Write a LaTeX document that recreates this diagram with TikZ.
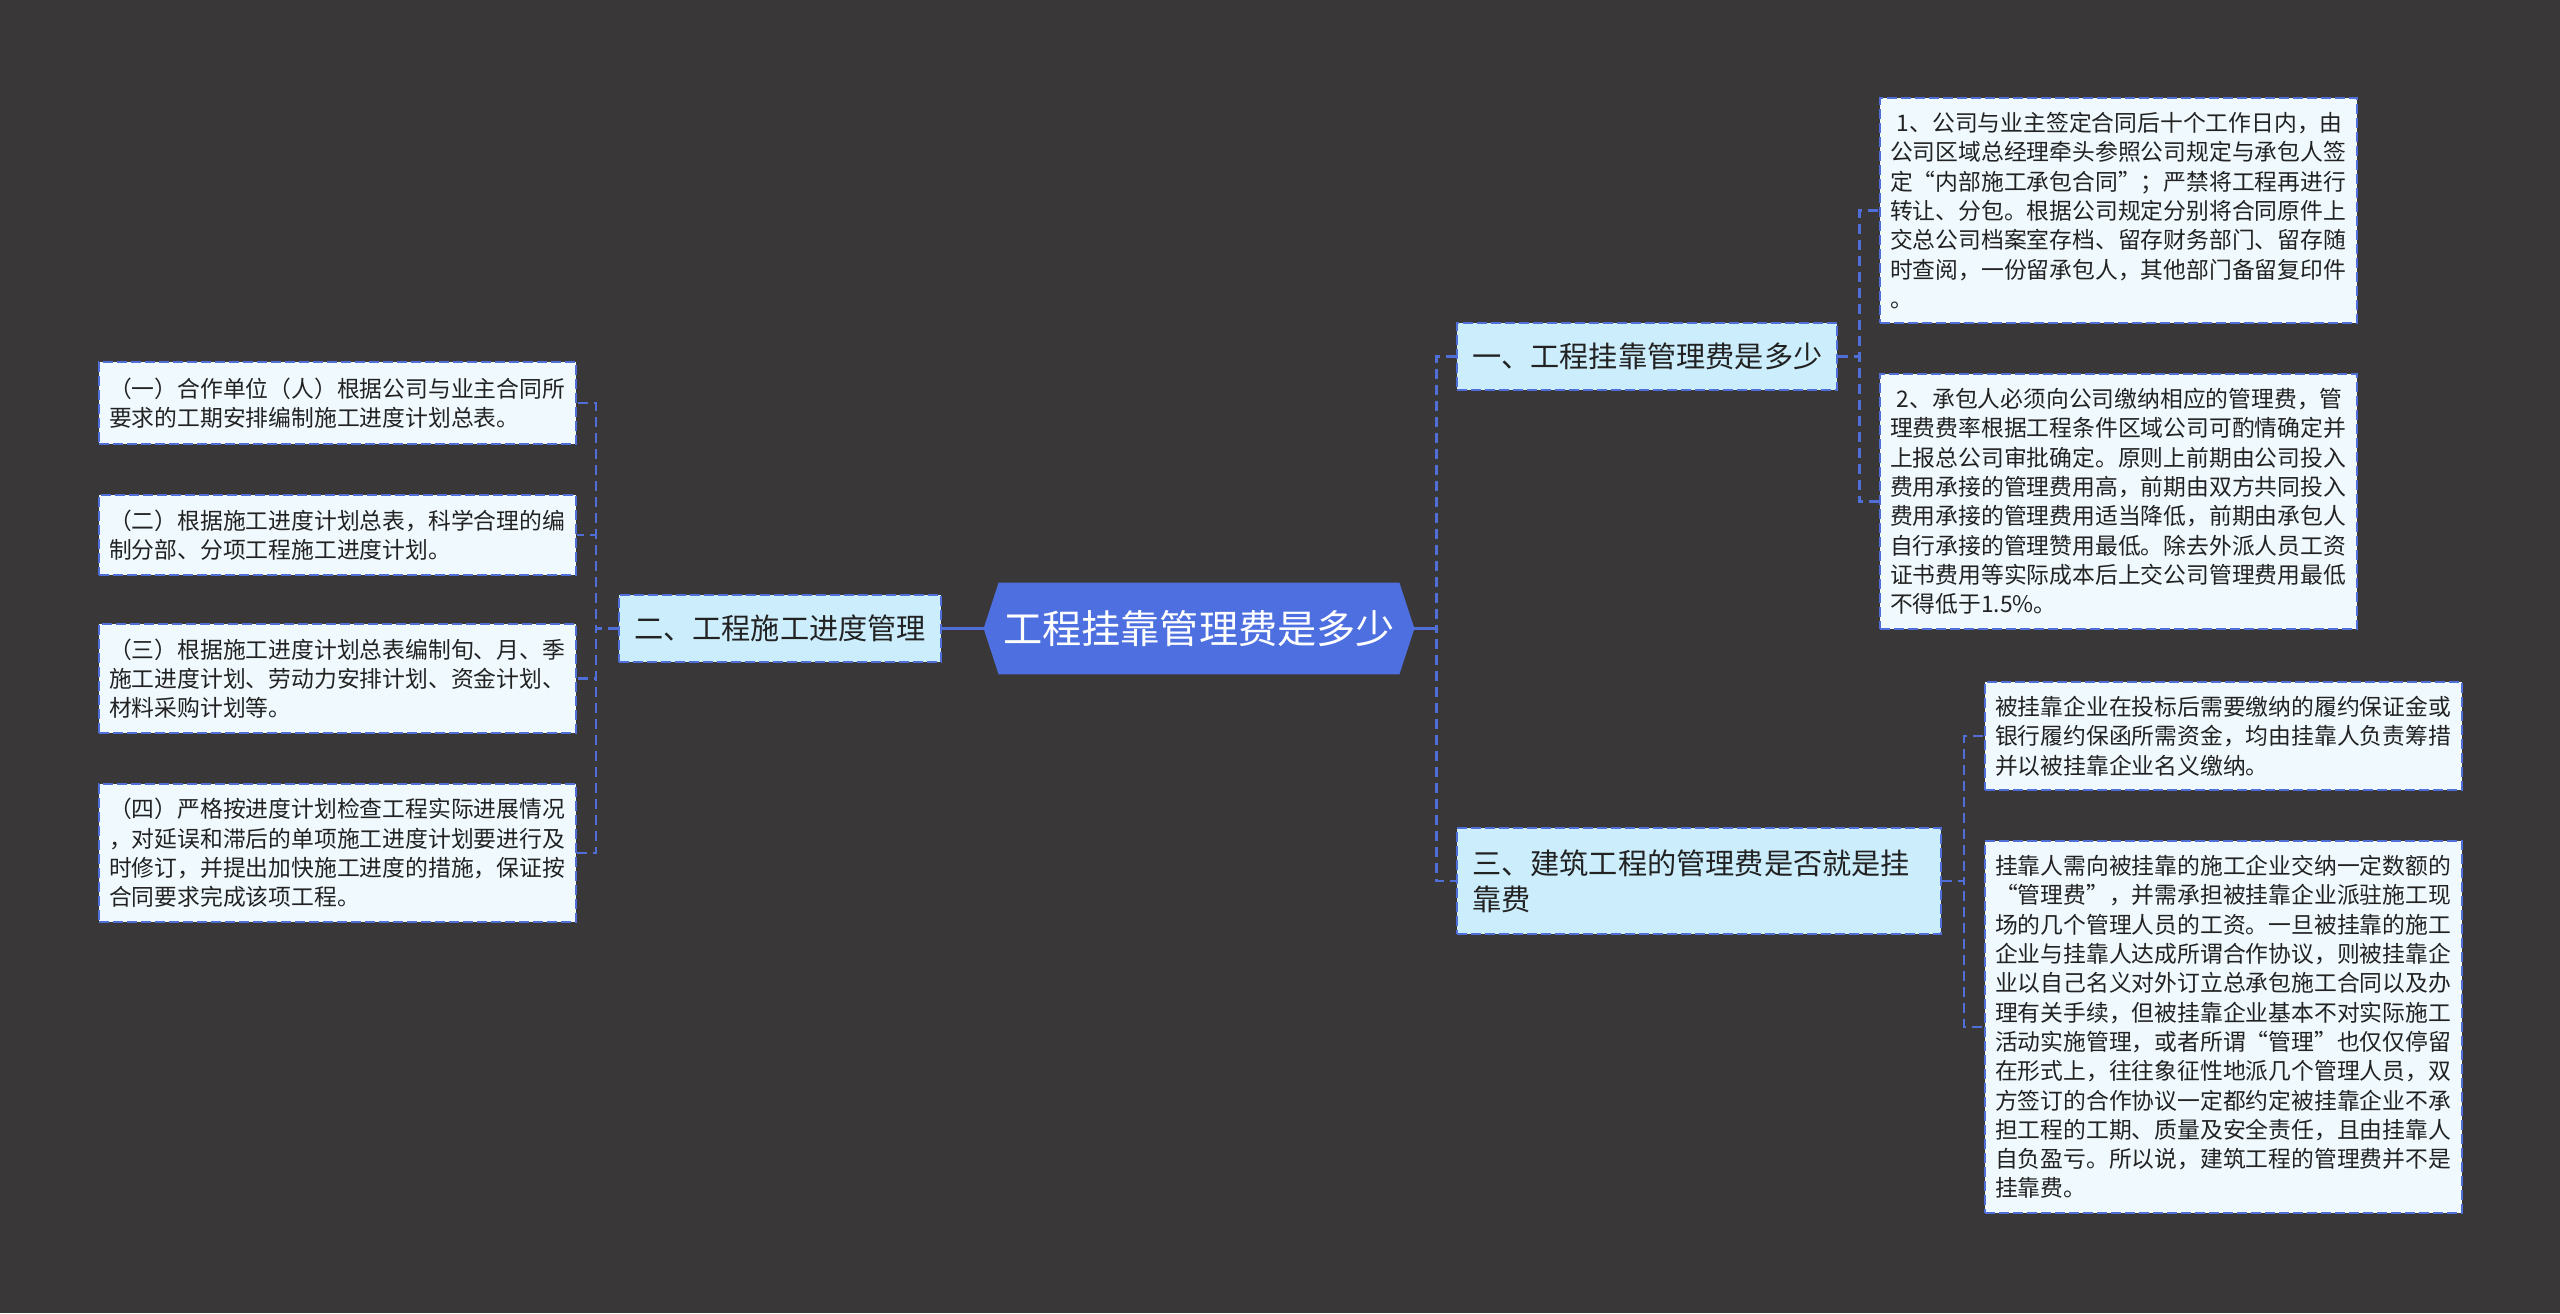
\documentclass[tikz,border=0pt]{standalone}
\usepackage{fontspec}
\setmainfont{Noto Sans CJK SC}
\definecolor{bgc}{RGB}{57,55,56}
\definecolor{rootc}{RGB}{77,111,224}
\definecolor{linec}{RGB}{80,110,215}
\definecolor{branchc}{RGB}{204,237,252}
\definecolor{leafc}{RGB}{240,250,254}
\definecolor{txt}{RGB}{34,34,34}
\pgfdeclarelayer{back}
\pgfdeclarelayer{bg}
\pgfsetlayers{back,bg,main}
\begin{document}
\begin{tikzpicture}[x=0.5pt,y=-0.5pt,
 leaf/.style={draw=linec, line width=1pt, dash pattern=on 5pt off 2pt, fill=leafc, text=txt, anchor=west, align=left, text width=228.5pt, inner xsep=5pt, inner ysep=0pt, font=\fontsize{11.4pt}{14.65pt}\selectfont},
 branch/.style={draw=linec, line width=1pt, dash pattern=on 5pt off 2pt, fill=branchc, text=txt, align=left, inner xsep=7.5pt, inner ysep=0pt, minimum height=33.5pt, font=\fontsize{14.6pt}{18pt}\selectfont},
 conn/.style={draw=linec, line width=1.3pt, dash pattern=on 5pt off 3pt},
 connsolid/.style={draw=linec, line width=1.3pt},
 rootbox/.style={text=white, inner sep=0pt, minimum width=200pt, minimum height=45.5pt, font=\fontsize{19.6pt}{24pt}\selectfont}]
\begin{pgfonlayer}{back}
\fill[bgc] (0,0) rectangle (2560,1313);
\end{pgfonlayer}
\useasboundingbox (0,0) rectangle (2560,1313);

% root
\node[rootbox] (root) at (1199,628.5) {工程挂靠管理费是多少};

% branches
\node[branch, anchor=west] (b1) at (1456,356.5) {一、工程挂靠管理费是多少};
\node[branch, anchor=east] (b2) at (942,628.5) {二、工程施工进度管理};
\node[branch, anchor=west, text width=227pt, minimum height=53pt, inner xsep=7.5pt] (b3) at (1456,881) {三、建筑工程的管理费是否就是挂\\靠费};

% right leaves
\node[leaf, minimum height=112.5pt] (l1) at (1879,210.5) {\hspace*{0.3em}1、公司与业主签定合同后十个工作日内，由\\公司区域总经理牵头参照公司规定与承包人签\\定“内部施工承包合同”；严禁将工程再进行\\转让、分包。根据公司规定分别将合同原件上\\交总公司档案室存档、留存财务部门、留存随\\时查阅，一份留承包人，其他部门备留复印件\\。};
\node[leaf, minimum height=127.5pt] (l2) at (1879,501.5) {\hspace*{0.3em}2、承包人必须向公司缴纳相应的管理费，管\\理费费率根据工程条件区域公司可酌情确定并\\上报总公司审批确定。原则上前期由公司投入\\费用承接的管理费用高，前期由双方共同投入\\费用承接的管理费用适当降低，前期由承包人\\自行承接的管理赞用最低。除去外派人员工资\\证书费用等实际成本后上交公司管理费用最低\\不得低于1.5\%。};
\node[leaf, minimum height=54pt] (l3) at (1984,736) {被挂靠企业在投标后需要缴纳的履约保证金或\\银行履约保函所需资金，均由挂靠人负责筹措\\并以被挂靠企业名义缴纳。};
\node[leaf, minimum height=186pt] (l4) at (1984,1027) {挂靠人需向被挂靠的施工企业交纳一定数额的\\“管理费”，并需承担被挂靠企业派驻施工现\\场的几个管理人员的工资。一旦被挂靠的施工\\企业与挂靠人达成所谓合作协议，则被挂靠企\\业以自己名义对外订立总承包施工合同以及办\\理有关手续，但被挂靠企业基本不对实际施工\\活动实施管理，或者所谓“管理”也仅仅停留\\在形式上，往往象征性地派几个管理人员，双\\方签订的合作协议一定都约定被挂靠企业不承\\担工程的工期、质量及安全责任，且由挂靠人\\自负盈亏。所以说，建筑工程的管理费并不是\\挂靠费。};

% left leaves
\node[leaf, minimum height=41pt] (a) at (98,403) {（一）合作单位（人）根据公司与业主合同所\\要求的工期安排编制施工进度计划总表。};
\node[leaf, minimum height=40pt] (b) at (98,535) {（二）根据施工进度计划总表，科学合理的编\\制分部、分项工程施工进度计划。};
\node[leaf, minimum height=54.5pt] (c) at (98,678.5) {（三）根据施工进度计划总表编制旬、月、季\\施工进度计划、劳动力安排计划、资金计划、\\材料采购计划等。};
\node[leaf, minimum height=69pt] (d) at (98,853) {（四）严格按进度计划检查工程实际进展情况\\，对延误和滞后的单项施工进度计划要进行及\\时修订，并提出加快施工进度的措施，保证按\\合同要求完成该项工程。};

\coordinate (rootR) at ([xshift=7.5pt]root.east);
\coordinate (rootL) at ([xshift=-7.5pt]root.west);

\begin{pgfonlayer}{bg}
\fill[rootc] (root.north west) -- (root.north east) -- (rootR) -- (root.south east) -- (root.south west) -- (rootL) -- cycle;
\draw[conn] (rootR) -- ++(22,0) |- (b1.west);
\draw[conn] (rootR) -- ++(22,0) |- (b3.west);
\draw[connsolid] (rootR) -- ++(22,0);
\draw[connsolid] (rootL) -- (b2.east);
\draw[conn] (b2.west) -- ++(-22,0) |- (a.east);
\draw[conn] (b2.west) -- ++(-22,0) |- (b.east);
\draw[conn] (b2.west) -- ++(-22,0) |- (c.east);
\draw[conn] (b2.west) -- ++(-22,0) |- (d.east);
\draw[conn] (b1.east) -- ++(21,0) |- (l1.west);
\draw[conn] (b1.east) -- ++(21,0) |- (l2.west);
\draw[conn] (b3.east) -- ++(22,0) |- (l3.west);
\draw[conn] (b3.east) -- ++(22,0) |- (l4.west);
\end{pgfonlayer}
\end{tikzpicture}
\end{document}
